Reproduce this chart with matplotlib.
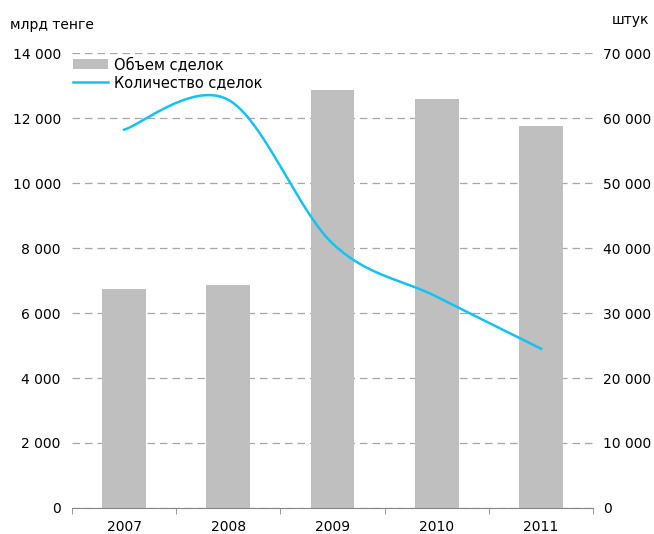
import numpy as np
import matplotlib
matplotlib.use('Agg')
import matplotlib.pyplot as plt
from matplotlib.ticker import FuncFormatter

years = ['2007', '2008', '2009', '2010', '2011']
volume = [6740, 6870, 12870, 12590, 11750]      # млрд тенге
deals = [58200, 62800, 40700, 32500, 24500]     # штук

plt.rcParams['font.family'] = ['DejaVu Sans']
plt.rcParams['font.size'] = 10


def smooth(xs, ys, n=40):
    # bezier through points, catmull-rom style control points (like excel smoothed line)
    pts = np.column_stack([xs, ys]).astype(float)
    out = []
    for i in range(len(pts) - 1):
        p0 = pts[max(i - 1, 0)]
        p1 = pts[i]
        p2 = pts[i + 1]
        p3 = pts[min(i + 2, len(pts) - 1)]
        c1 = p1 + (p2 - p0) / 6
        c2 = p2 - (p3 - p1) / 6
        t = np.linspace(0, 1, n)[:, None]
        seg = (1 - t)**3 * p1 + 3 * (1 - t)**2 * t * c1 + 3 * (1 - t) * t**2 * c2 + t**3 * p2
        out.append(seg)
    out = np.vstack(out)
    return out[:, 0], out[:, 1]


def fmt(v, pos):
    return f'{int(v):,}'.replace(',', ' ')


fig = plt.figure(figsize=(6.54, 5.34), dpi=100)
ax = fig.add_axes([0.110, 0.0487, 0.797, 0.852])
ax2 = ax.twinx()

x = np.arange(len(years))
ax.bar(x, volume, width=0.42, color='#BFBFBF', label='Объем сделок', zorder=2)
ax.set_xlim(-0.5, len(years) - 0.5)
ax.set_ylim(0, 14000)
ax.set_yticks(np.arange(0, 14001, 2000))
ax.yaxis.set_major_formatter(FuncFormatter(fmt))
ax.grid(axis='y', color='#A6A6A6', linestyle=(0, (6, 4)), linewidth=0.9, zorder=0)
ax.set_axisbelow(True)

sx, sy = smooth(x, deals)
ax2.plot(sx, sy, color='#14C2F2', linewidth=1.8, label='Количество сделок')
ax2.set_ylim(0, 70000)
ax2.set_yticks(np.arange(0, 70001, 10000))
ax2.yaxis.set_major_formatter(FuncFormatter(fmt))

for a in (ax, ax2):
    for s in ('top', 'left', 'right'):
        a.spines[s].set_visible(False)
    a.tick_params(axis='y', length=0, pad=8, labelsize=10)
ax2.tick_params(axis='y', pad=7)
ax2.spines['bottom'].set_visible(False)
ax.spines['bottom'].set_color('#868686')

ax.set_xticks(x)
ax.set_xticklabels(years)
ax.set_xticks(np.arange(-0.5, len(years), 1), minor=True)
ax.tick_params(axis='x', which='major', length=0, pad=9, labelsize=10)
ax.tick_params(axis='x', which='minor', length=4, color='#868686')

fig.text(0.015, 0.953, 'млрд тенге', fontsize=10, va='center', ha='left')
fig.text(0.935, 0.962, 'штук', fontsize=10, va='center', ha='left')

h1, l1 = ax.get_legend_handles_labels()
h2, l2 = ax2.get_legend_handles_labels()
ax2.legend(h1 + h2, l1 + l2, loc='upper left', bbox_to_anchor=(0.0, 0.995),
           frameon=False, fontsize=10.5, handlelength=2.4, handleheight=0.7,
           handletextpad=0.4, labelspacing=0.25, borderaxespad=0.0, borderpad=0.1)

fig.savefig('out.png', dpi=100)
